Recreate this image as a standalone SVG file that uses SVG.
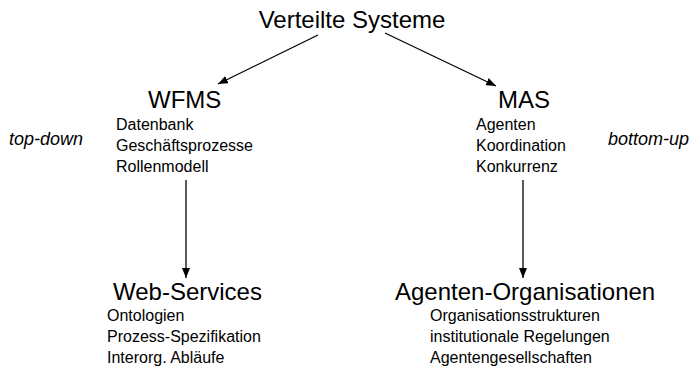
<svg xmlns="http://www.w3.org/2000/svg" width="696" height="367" viewBox="0 0 696 367">
<defs>
<style>
text{font-family:"Liberation Sans",Arial,sans-serif;fill:#000}
.big{font-size:24px}
.item{font-size:16px}
.side{font-size:18px;font-style:italic}
.conn{stroke:#000;stroke-width:1.3;fill:none}
</style>
<marker id="arr" viewBox="0 0 10 8" refX="10" refY="4" markerWidth="10" markerHeight="8" markerUnits="userSpaceOnUse" orient="auto">
<path d="M0,0 L10,4 L0,8 Z" fill="#000"/>
</marker>
</defs>
<rect width="696" height="367" fill="#fff"/>
<g id="connectors">
<line class="conn" x1="318" y1="35" x2="218" y2="84" marker-end="url(#arr)"/>
<line class="conn" x1="385" y1="33" x2="496" y2="86" marker-end="url(#arr)"/>
<line class="conn" x1="186" y1="180" x2="186" y2="278" marker-end="url(#arr)"/>
<line class="conn" x1="523" y1="180" x2="523" y2="278" marker-end="url(#arr)"/>
</g>
<g id="root">
<text class="big" x="352" y="28" text-anchor="middle">Verteilte Systeme</text>
</g>
<g id="wfms">
<text class="big" x="148" y="108">WFMS</text>
<text class="item" x="116" y="130">Datenbank</text>
<text class="item" x="116" y="151">Geschäftsprozesse</text>
<text class="item" x="116" y="172">Rollenmodell</text>
</g>
<g id="mas">
<text class="big" x="498" y="108">MAS</text>
<text class="item" x="476" y="130">Agenten</text>
<text class="item" x="476" y="151">Koordination</text>
<text class="item" x="476" y="172">Konkurrenz</text>
</g>
<g id="topdown">
<text class="side" x="9" y="145">top-down</text>
</g>
<g id="bottomup">
<text class="side" x="608" y="145">bottom-up</text>
</g>
<g id="webservices">
<text class="big" x="113" y="300">Web-Services</text>
<text class="item" x="107" y="321">Ontologien</text>
<text class="item" x="107" y="342">Prozess-Spezifikation</text>
<text class="item" x="107" y="363">Interorg. Abläufe</text>
</g>
<g id="agentenorg">
<text class="big" x="395" y="300">Agenten-Organisationen</text>
<text class="item" x="430" y="321">Organisationsstrukturen</text>
<text class="item" x="430" y="342">institutionale Regelungen</text>
<text class="item" x="430" y="363">Agentengesellschaften</text>
</g>
</svg>
